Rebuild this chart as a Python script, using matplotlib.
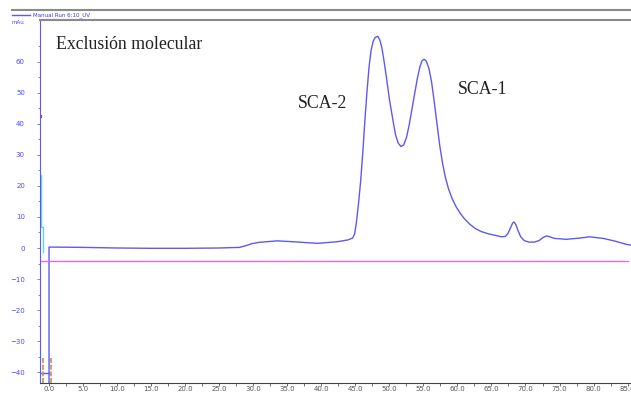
import matplotlib.pyplot as plt
from matplotlib.lines import Line2D

# UV trace (mAu vs volume)
uv_x = [-1.4, -1.4, -0.05, 0.0, 0.0, 5.0, 10.0, 15.0, 20.0, 25.0, 28.0, 29.0, 29.8,
        30.8, 33.5, 36.0, 39.4, 42.3, 43.9, 44.6, 44.9, 45.2, 45.5, 45.8, 46.1,
        46.4, 46.7, 47.0, 47.3, 47.6, 47.9, 48.3, 48.6, 48.9, 49.2, 49.6, 50.0,
        50.5, 50.9, 51.3, 51.7, 52.1, 52.5, 52.9, 53.3, 53.7, 54.1, 54.5, 54.8,
        55.1, 55.4, 55.8, 56.2, 56.6, 57.0, 57.4, 57.8, 58.2, 58.7, 59.2, 59.8,
        60.4, 61.0, 61.8, 62.6, 63.5, 64.5, 65.5, 66.5, 67.0, 67.4, 67.8, 68.1,
        68.3, 68.6, 68.9, 69.3, 69.8, 70.5, 71.3, 72.0, 72.6, 73.1, 73.6, 74.2,
        76.0, 78.0, 79.4, 81.4, 83.0, 84.8, 85.5]
uv_y = [80, -50, -50, -50, 0.3, 0.2, 0.0, -0.1, -0.1, 0.0, 0.2, 0.8, 1.4,
        1.8, 2.3, 2.0, 1.5, 2.0, 2.6, 3.2, 4.5, 9.0, 15.0, 22.0, 31.0,
        41.0, 50.0, 58.0, 63.5, 66.5, 67.8, 68.2, 67.0, 64.5, 60.5, 54.5, 48.0,
        41.5, 36.5, 33.8, 32.7, 33.2, 35.5, 39.5, 44.5, 49.5, 54.5, 58.5, 60.3,
        60.8, 60.3, 58.0, 53.5, 47.0, 40.0, 33.0, 27.5, 23.0, 19.0, 16.0, 13.3,
        11.2, 9.5, 7.7, 6.3, 5.3, 4.6, 4.1, 3.6, 3.7, 4.6, 6.5, 8.0,
        8.4, 7.5, 5.6, 3.6, 2.4, 1.9, 1.9, 2.4, 3.4, 3.9, 3.6, 3.1,
        2.8, 3.2, 3.6, 3.1, 2.3, 1.2, 0.9]

# second (cyan) trace at the very start
cyan_x = [-1.17, -1.17, -0.9, -0.9]
cyan_y = [23.5, 6.8, 6.8, -1.3]

base_level = -4.2          # magenta line
inject_x = [-0.9, 0.3]     # injection marks
peak_labels = ["SCA-2", "SCA-1"]
peak_label_pos = [(36.5, 46.5), (60.0, 51.0)]

xticks = [0, 5, 10, 15, 20, 25, 30, 35, 40, 45, 50, 55, 60, 65, 70, 75, 80, 85]
yticks = [-40, -30, -20, -10, 0, 10, 20, 30, 40, 50, 60]

blue = "#5b5bef"

fig = plt.figure(figsize=(6.31, 3.96), dpi=100)
ax = fig.add_axes([0.0626, 0.0328, 0.9374, 0.917])

ax.plot(uv_x, uv_y, color=blue, lw=1.0)
ax.plot([-1.4, 0.0], [-40.3, -40.3], color=blue, lw=1.0)
ax.plot(cyan_x, cyan_y, color="#5fd3f0", lw=1.0)
ax.axhline(base_level, xmin=0, xmax=0.995, color="#e36be3", lw=1.0)
ax.plot([-1.4], [42.6], marker="s", ms=1.5, color="#e03030")
for xi in inject_x:
    ax.plot([xi, xi], [-43.5, -35.5], color="#c8904a", lw=1.2,
            linestyle=(0, (3, 1)))

ax.set_xlim(-1.4, 85.5)
ax.set_ylim(-43.5, 73.5)

ax.set_xticks(xticks)
ax.set_xticklabels([f"{v:.1f}" for v in xticks])
ax.set_xticks([v + 2.5 for v in xticks[:-1]], minor=True)
ax.set_yticks(yticks)
ax.set_yticks([v + 5 for v in yticks], minor=True)

ax.tick_params(axis="x", which="both", direction="out", length=2, width=0.6,
               color="#555555", labelsize=5, labelcolor="#555555", pad=0)
ax.tick_params(axis="y", which="major", direction="out", length=2.5, width=0.6,
               color="#777777", labelsize=5, labelcolor="#4a4aff", pad=8)
ax.tick_params(axis="y", which="minor", direction="out", length=1.5, width=0.6,
               color="#777777")

ax.spines["right"].set_visible(False)
ax.spines["top"].set_color("#8a8a8a")
ax.spines["top"].set_linewidth(1.5)
ax.spines["left"].set_color(blue)
ax.spines["bottom"].set_color("#444444")
ax.spines["bottom"].set_linewidth(0.8)

ax.text(1.0, 65.5, "Exclusión molecular", family="Liberation Serif",
        fontsize=12.8, color="#222222", va="center", ha="left")
for lab, (lx, ly) in zip(peak_labels, peak_label_pos):
    ax.text(lx, ly, lab, family="Liberation Serif", fontsize=12.8,
            color="#222222", va="center", ha="left")

# header strip like the instrument software
fig.add_artist(Line2D([0.019, 1.0], [0.974, 0.974], color="#8a8a8a", lw=1.5))
fig.add_artist(Line2D([0.019, 0.048], [0.962, 0.962], color=blue, lw=1.0))
fig.text(0.052, 0.962, "Manual Run 6:10_UV", fontsize=4, color="#3a3ae0",
         va="center", ha="left")
fig.text(0.019, 0.942, "mAu", fontsize=4, color="#4a4aff", va="center",
         ha="left")

fig.savefig("out.png", dpi=100)
